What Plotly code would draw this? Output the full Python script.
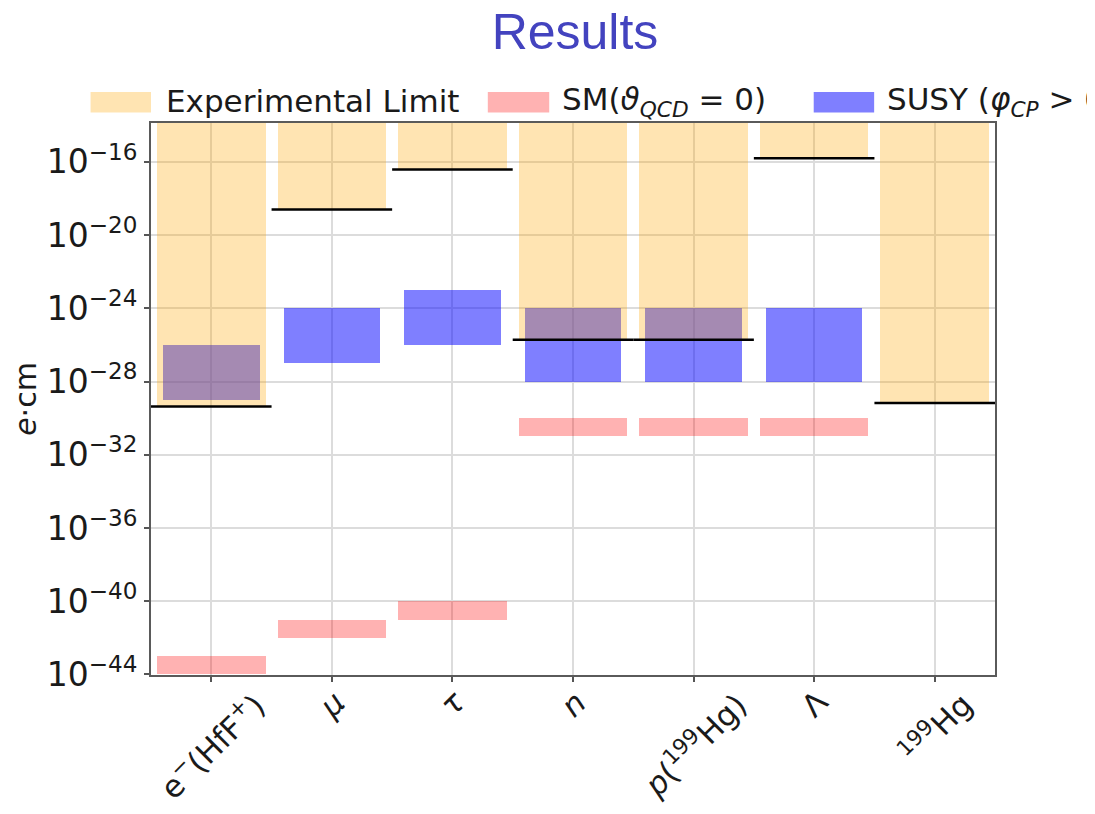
import plotly.graph_objects as go

# particle / system categories
labels = ['e<sup>−</sup>(HfF<sup>+</sup>)', '<i>μ</i>', '<i>τ</i>', '<i>n</i>',
          '<i>p</i>(<sup>199</sup>Hg)', 'Λ', '<sup>199</sup>Hg']

# log10 of the EDM values (e·cm)
exp_limit = [-29.37, -18.6, -16.42, -25.72, -25.72, -15.81, -29.17]
susy_lo = [-29, -27, -26, -28, -28, -28, None]
susy_hi = [-26, -24, -23, -24, -24, -24, None]
sm_lo = [-44, -42, -41, -31, -31, -31, None]
sm_hi = [-43, -41, -40, -30, -30, -30, None]
exp_top = -10  # bars run off the top of the axes

ytick_exp = [-16, -20, -24, -28, -32, -36, -40, -44]

# page body has an 8px margin, so the figure is a bit smaller than the window
OFF = 8
W, H = 1095 - OFF, 814 - OFF
ML, MT = 143 - OFF, 123 - OFF
MR = W - (995 - OFF)
MB = H - (675 - OFF)
FONT = 'DejaVu Sans'


def px(x):
    # window pixel -> paper x
    return (x - OFF - ML) / (W - ML - MR)


def py(y):
    # window pixel -> paper y
    return (H - MB - (y - OFF)) / (H - MT - MB)


def span(lo, hi):
    base = [10 ** a if a is not None else None for a in lo]
    height = [10 ** b - 10 ** a if a is not None else None for a, b in zip(lo, hi)]
    return base, height


xs = list(range(len(labels)))

susy_base, susy_h = span(susy_lo, susy_hi)
exp_base, exp_h = span(exp_limit, [exp_top] * len(exp_limit))
sm_base, sm_h = span(sm_lo, sm_hi)

susy = go.Bar(x=xs, y=susy_h, base=susy_base, width=0.8,
              marker=dict(color='rgba(0,0,255,0.5)', line=dict(width=0)),
              name='SUSY', showlegend=False)
exp = go.Bar(x=xs, y=exp_h, base=exp_base, width=0.9,
             marker=dict(color='rgba(255,165,0,0.3)', line=dict(width=0)),
             name='Experimental Limit', showlegend=False)
sm = go.Bar(x=xs, y=sm_h, base=sm_base, width=0.9,
            marker=dict(color='rgba(255,0,0,0.3)', line=dict(width=0)),
            name='SM', showlegend=False)

# black limit lines, one category wide
lx, ly = [], []
for i, v in zip(xs, exp_limit):
    lx += [i - 0.5, i + 0.5, None]
    ly += [10 ** v, 10 ** v, None]
lines = go.Scatter(x=lx, y=ly, mode='lines', line=dict(color='black', width=2.5),
                   showlegend=False, hoverinfo='skip')

fig = go.Figure(data=[susy, exp, sm, lines])

# hand-made legend with wide swatches like the original
legend_items = [
    ('rgba(255,165,0,0.3)', 'Experimental Limit', 82, 143, 156),
    ('rgba(255,0,0,0.3)', 'SM(<i>ϑ</i><sub><i>QCD</i></sub> = 0)', 483, 545, 556),
    ('rgba(0,0,255,0.5)', 'SUSY (<i>φ</i><sub><i>CP</i></sub> > 0)', 812, 873, 884),
]
shapes = []
annotations = []
for col, txt, x0, x1, tx in legend_items:
    shapes.append(dict(type='rect', xref='paper', yref='paper',
                       x0=px(x0), x1=px(x1), y0=py(112.5), y1=py(92),
                       fillcolor=col, line=dict(width=0), layer='above'))
    annotations.append(dict(text=txt, xref='paper', yref='paper', x=px(tx), y=py(101),
                            xanchor='left', yanchor='middle', showarrow=False,
                            font=dict(family=FONT, size=31, color='#1a1a1a')))

# rotated, centred category labels (matplotlib style)
for i, lab in zip(xs, labels):
    annotations.append(dict(text=lab, x=i, xref='x', y=0, yref='paper', yshift=-6,
                            xanchor='center', yanchor='top', textangle=-45,
                            showarrow=False,
                            font=dict(family=FONT, size=31, color='#1a1a1a')))

fig.update_layout(
    width=W, height=H,
    margin=dict(l=ML, r=MR, t=MT, b=MB),
    paper_bgcolor='white', plot_bgcolor='white',
    barmode='overlay', bargap=0,
    title=dict(text='Results', x=(575 - OFF) / W, xanchor='center',
               y=1 - (31 - OFF) / H, yanchor='middle', yref='container',
               font=dict(family='Liberation Sans', size=50, color='#4343BF')),
    shapes=shapes, annotations=annotations,
    showlegend=False,
)

fig.update_xaxes(range=[-0.5, 6.5], tickvals=xs, showticklabels=False,
                 showgrid=True, gridcolor='#DCDCDC', gridwidth=1.5,
                 showline=True, linecolor='#5a5a5a', linewidth=2, mirror=True,
                 ticks='outside', ticklen=5, tickcolor='#555', tickwidth=1.5,
                 zeroline=False)

fig.update_yaxes(type='log', range=[-44.03, -13.88],
                 tickvals=[10 ** e for e in ytick_exp],
                 ticktext=['10<sup>−%d</sup>' % -e for e in ytick_exp],
                 tickfont=dict(family=FONT, size=33, color='#1a1a1a'),
                 showgrid=True, gridcolor='#DCDCDC', gridwidth=1.5,
                 showline=True, linecolor='#5a5a5a', linewidth=2, mirror=True,
                 ticks='outside', ticklen=5, tickcolor='#555', tickwidth=1.5,
                 title=dict(text='<i>e</i>·cm', standoff=6,
                            font=dict(family=FONT, size=30, color='#1a1a1a')),
                 zeroline=False)

fig.write_html('out.html')
